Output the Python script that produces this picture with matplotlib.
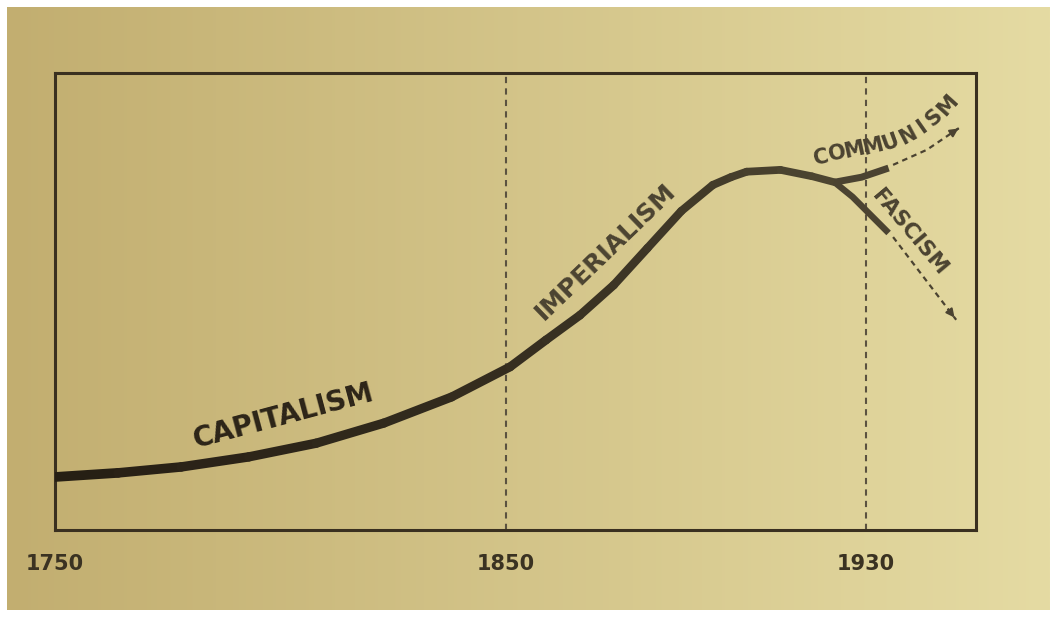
import numpy as np
import matplotlib.pyplot as plt
from matplotlib.collections import LineCollection

# main trend line
years = [1750, 1764, 1778, 1793, 1808, 1823, 1838, 1851, 1859, 1866.5, 1874,
         1881.5, 1889, 1896, 1900, 1903.5, 1911, 1918, 1923]
trend = [11.6, 12.5, 13.8, 16.0, 19.0, 23.4, 29.1, 35.7, 41.6, 47.0, 53.6,
         61.7, 69.8, 75.5, 77.2, 78.4, 78.8, 77.4, 76.1]

# the two branches after the split
comm_years = [1923, 1929, 1935]
comm_vals = [76.1, 77.2, 79.2]
fasc_years = [1923, 1927, 1935]
fasc_vals = [76.1, 72.9, 65.0]

# dotted projections
comm_fut_years = [1936, 1943.5, 1951]
comm_fut_vals = [79.9, 83.2, 88.2]
fasc_fut_years = [1936, 1950]
fasc_fut_vals = [64.1, 46.0]

tick_years = [1750, 1850, 1930]
tick_labels = ['1750', '1850', '1930']
marker_years = [1850, 1930]

ink = '#2c2418'
ink2 = '#4b4331'

fig = plt.figure(figsize=(10.61, 6.2), dpi=100, facecolor='white')

# paper background
bg = fig.add_axes([7/1061, 10/620, 1043/1061, 603/620], zorder=-5)
left = np.array([194, 174, 112]) / 255
right = np.array([229, 219, 163]) / 255
t = np.linspace(0, 1, 400)
grad = left[None, :] * (1 - t[:, None]) + right[None, :] * t[:, None]
bg.imshow(grad[None, :, :], aspect='auto', extent=[0, 1, 0, 1])
bg.set_axis_off()

ax = fig.add_axes([55/1061, 1 - 530/620, 921/1061, 457/620])
ax.patch.set_alpha(0)
ax.set_xlim(1750, 1954.4)
ax.set_ylim(0, 100)

for s in ax.spines.values():
    s.set_color('#3a3020')
    s.set_linewidth(2.2)

ax.set_yticks([])
ax.set_xticks(tick_years)
ax.set_xticklabels(tick_labels, fontsize=15, fontweight='bold', color='#3a3222')
ax.tick_params(axis='x', length=0, pad=17)

for yr in marker_years:
    ax.axvline(yr, color='#5b5240', lw=1.5, ls=(0, (3, 2.5)), zorder=1)

# tapered main curve
pts = np.column_stack([years, trend])
segs = np.stack([pts[:-1], pts[1:]], axis=1)
n = len(segs)
widths = np.linspace(7.0, 5.4, n)
c0 = np.array([0.15, 0.12, 0.08])
c1 = np.array([0.30, 0.27, 0.19])
cols = [tuple(c0 * (1 - f) + c1 * f) for f in np.linspace(0, 1, n)]
lc = LineCollection(segs, linewidths=widths, colors=cols, capstyle='round', joinstyle='round', zorder=3)
ax.add_collection(lc)

ax.plot(comm_years, comm_vals, color=ink2, lw=5.0, solid_capstyle='butt',
        solid_joinstyle='round', zorder=3)
ax.plot(fasc_years, fasc_vals, color=ink2, lw=4.6, solid_capstyle='butt',
        solid_joinstyle='round', zorder=3)

for xs, ys in [(comm_fut_years, comm_fut_vals), (fasc_fut_years, fasc_fut_vals)]:
    ax.plot(xs, ys, color=ink2, lw=1.6, ls=(0, (2.5, 2)), zorder=3)
    ax.annotate('', xy=(xs[-1], ys[-1]),
                xytext=(xs[-1] - (xs[-1] - xs[-2]) * 0.15, ys[-1] - (ys[-1] - ys[-2]) * 0.15),
                arrowprops=dict(arrowstyle='-|>', color=ink2, lw=1.5, mutation_scale=12))

ax.text(1800.6, 24.8, 'CAPITALISM', fontsize=20, fontweight='bold', color=ink,
        rotation=15, ha='center', va='center', rotation_mode='anchor')
ax.text(1872.2, 60.8, 'IMPERIALISM', fontsize=18, fontweight='bold', color=ink2,
        rotation=44, ha='center', va='center', rotation_mode='anchor')
ax.text(1939.7, 65.2, 'FASCISM', fontsize=15.5, fontweight='bold', color=ink2,
        rotation=-50, ha='center', va='center', rotation_mode='anchor')

# COMMUNISM bends upward, letter by letter
letters = list('COMMUNISM')
lx = [1920.0, 1923.6, 1927.4, 1931.5, 1935.4, 1939.2, 1942.4, 1945.0, 1948.2]
ly = [81.6, 82.5, 83.2, 83.8, 84.9, 86.4, 88.3, 90.3, 93.0]
rot = [12, 12, 12, 14, 20, 28, 35, 42, 48]
for ch, x, y, r in zip(letters, lx, ly, rot):
    ax.text(x, y, ch, fontsize=15, fontweight='bold', color=ink2, rotation=r,
            ha='center', va='center', rotation_mode='anchor')

fig.savefig('out.png', dpi=100, facecolor=fig.get_facecolor())
